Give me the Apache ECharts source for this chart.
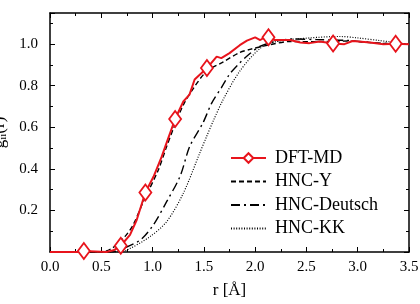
<!DOCTYPE html>
<html>
<head>
<meta charset="utf-8">
<script src="https://cdn.jsdelivr.net/npm/echarts@6/dist/echarts.min.js"></script>
<style>
html,body{margin:0;padding:0;background:#fff;}
#main{width:420px;height:304px;}
</style>
</head>
<body>
<div id="main"></div>
<script>
// 曲线数据 r [Å] / g_ii(r)
var dftR = [0.0, 0.3, 0.33, 0.55, 0.62, 0.69, 0.78, 0.845, 0.93, 1.01, 1.09, 1.14, 1.22, 1.30, 1.36, 1.41, 1.53, 1.625, 1.67, 1.75, 1.85, 1.92, 2.0, 2.05, 2.10, 2.13, 2.19, 2.34, 2.44, 2.53, 2.63, 2.76, 2.87, 2.95, 3.12, 3.25, 3.37, 3.5];
var dftG = [0, 0, 0.005, 0, 0.008, 0.03, 0.082, 0.154, 0.286, 0.363, 0.46, 0.53, 0.64, 0.724, 0.757, 0.83, 0.885, 0.94, 0.933, 0.957, 0.995, 1.017, 1.033, 1.02, 1.035, 1.033, 1.02, 1.02, 1.008, 1.005, 1.013, 1.003, 1.0, 1.015, 1.008, 1.0, 1.002, 1.0];
// 带菱形标记的点
var dftMarks = [0.33, 0.69, 0.93, 1.22, 1.53, 2.13, 2.76, 3.37];

var yR = [0, 0.5, 0.61, 0.73, 0.81, 0.91, 1.056, 1.137, 1.2, 1.30, 1.40, 1.527, 1.69, 1.85, 1.95, 2.14, 2.34, 2.6, 2.9, 3.2, 3.5];
var yG = [0, 0, 0.02, 0.074, 0.13, 0.242, 0.395, 0.507, 0.59, 0.708, 0.789, 0.869, 0.915, 0.96, 0.975, 0.997, 1.013, 1.012, 1.015, 1.005, 1.0];

var deR = [0, 0.6, 0.68, 0.88, 1.007, 1.137, 1.267, 1.364, 1.49, 1.575, 1.67, 1.75, 1.85, 1.95, 2.05, 2.21, 2.37, 2.6, 2.9, 3.2, 3.5];
var deG = [0, 0, 0.01, 0.058, 0.13, 0.242, 0.363, 0.51, 0.62, 0.715, 0.79, 0.855, 0.91, 0.955, 0.99, 1.015, 1.025, 1.022, 1.018, 1.005, 1.0];

var kkR = [0, 0.65, 0.75, 0.975, 1.137, 1.30, 1.46, 1.527, 1.6, 1.69, 1.85, 2.05, 2.21, 2.53, 2.83, 3.0, 3.22, 3.5];
var kkG = [0, 0, 0.01, 0.074, 0.146, 0.283, 0.476, 0.556, 0.64, 0.735, 0.87, 0.98, 1.013, 1.03, 1.037, 1.03, 1.017, 1.0];

var xTicks = ['0.0', '0.5', '1.0', '1.5', '2.0', '2.5', '3.0', '3.5'];

function pairs(xs, ys){
    var arr = [];
    for(var i=0;i<xs.length;i++){
        arr.push([xs[i], ys[i]]);
    }
    return arr;
}

function dftData(){
    var arr = [];
    for(var i=0;i<dftR.length;i++){
        if(dftMarks.indexOf(dftR[i]) >= 0){
            arr.push({value:[dftR[i], dftG[i]]});
        }else{
            arr.push({value:[dftR[i], dftG[i]], symbol:'none'});
        }
    }
    return arr;
}

var font = 'Liberation Serif';
var tickStyle = {show:true, inside:true, length:5, lineStyle:{color:'#000', width:1}};
var minorStyle = {show:true, splitNumber:2, length:3, lineStyle:{color:'#000', width:1}};
var lineAxis = {show:true, onZero:false, lineStyle:{color:'#000', width:1.5}};
var noDot = {color:'rgba(0,0,0,0)', borderWidth:0};

var myChart = echarts.init(document.getElementById('main'));
var option = {
    animation:false,
    backgroundColor:'#fff',
    grid:{left:50, right:11, top:13, bottom:52, containLabel:false, outerBoundsMode:'none'},
    legend:{
        orient:'vertical',
        left:225, top:144,
        itemWidth:35, itemHeight:12, itemGap:5.5,
        textStyle:{fontFamily:font, fontSize:18, lineHeight:18, color:'#000', padding:[0,0,0,4]},
        data:[
            {name:'DFT-MD'},
            {name:'HNC-Y', itemStyle:noDot},
            {name:'HNC-Deutsch', itemStyle:noDot},
            {name:'HNC-KK', itemStyle:noDot}
        ]
    },
    xAxis:[{
        type:'value', min:0, max:3.5, interval:0.5,
        name:'r [Å]', nameLocation:'middle', nameGap:30,
        nameTextStyle:{fontFamily:font, fontSize:17, color:'#000'},
        axisLine:lineAxis, axisTick:tickStyle, minorTick:minorStyle,
        splitLine:{show:false},
        axisLabel:{fontFamily:font, fontSize:15, color:'#000', margin:8,
            formatter:function(v){ return xTicks[Math.round(v/0.5)]; }}
    },{
        type:'value', position:'top', min:0, max:3.5, interval:0.5,
        axisLine:lineAxis, axisTick:tickStyle, minorTick:minorStyle,
        splitLine:{show:false}, axisLabel:{show:false}
    }],
    yAxis:[{
        type:'value', min:0, max:1.15, interval:0.2,
        name:'g{sub|ii}(r)', nameLocation:'middle', nameGap:36,
        nameTextStyle:{fontFamily:font, fontSize:17, color:'#000',
            rich:{sub:{fontFamily:font, fontSize:11, color:'#000', verticalAlign:'bottom', padding:[7,0,0,0]}}},
        axisLine:lineAxis, axisTick:tickStyle, minorTick:minorStyle,
        splitLine:{show:false},
        axisLabel:{fontFamily:font, fontSize:15, color:'#000', margin:12, showMaxLabel:false,
            formatter:function(v){ return v == 0 ? '' : v.toFixed(1); }}
    },{
        type:'value', position:'right', min:0, max:1.15, interval:0.2,
        axisLine:lineAxis, axisTick:tickStyle, minorTick:minorStyle,
        splitLine:{show:false}, axisLabel:{show:false}
    }],
    series:[{
        name:'HNC-KK', type:'line', smooth:0.3, symbol:'none',
        lineStyle:{color:'#000', width:1.2, type:[1,1.6]},
        itemStyle:{color:'#000'},
        data:pairs(kkR, kkG)
    },{
        name:'HNC-Deutsch', type:'line', smooth:0.3, symbol:'none',
        lineStyle:{color:'#000', width:1.4, type:[9,4,2,4]},
        itemStyle:{color:'#000'},
        data:pairs(deR, deG)
    },{
        name:'HNC-Y', type:'line', smooth:0.3, symbol:'none',
        lineStyle:{color:'#000', width:1.4, type:[5,3]},
        itemStyle:{color:'#000'},
        data:pairs(yR, yG)
    },{
        name:'DFT-MD', type:'line', symbol:'diamond', symbolSize:[12,16], showAllSymbol:true,
        lineStyle:{color:'#e8141c', width:2},
        itemStyle:{color:'#fff', borderColor:'#e8141c', borderWidth:1.8},
        data:dftData(), z:5
    }]
};
myChart.setOption(option);
</script>
</body>
</html>
